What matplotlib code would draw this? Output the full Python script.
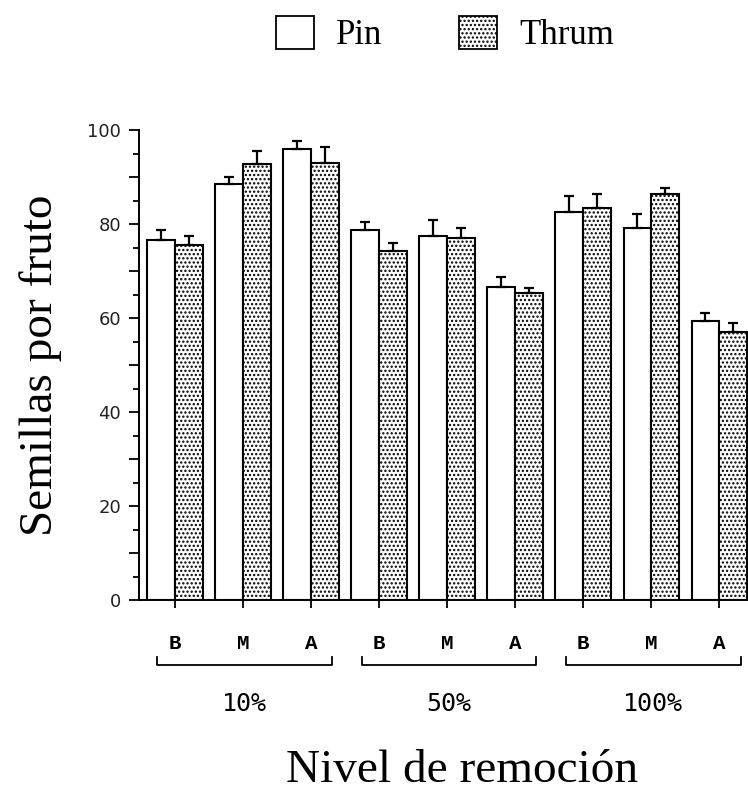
import matplotlib
matplotlib.use("Agg")
import matplotlib.pyplot as plt
from matplotlib.patches import Patch
from matplotlib.ticker import MultipleLocator, FuncFormatter

# values
levels = ["B", "M", "A", "B", "M", "A", "B", "M", "A"]
groups = ["10%", "50%", "100%"]
pin = [76.7, 88.6, 96.0, 78.9, 77.6, 66.6, 82.6, 79.3, 59.5]
pin_err = [2.2, 1.5, 1.7, 1.6, 3.3, 2.1, 3.4, 2.9, 1.6]
thrum = [75.5, 92.8, 93.1, 74.3, 77.2, 65.3, 83.5, 86.4, 57.0]
thrum_err = [2.1, 2.9, 3.4, 1.7, 2.0, 1.2, 2.9, 1.3, 2.0]

serif = "Liberation Serif"
mono = "Liberation Mono"
plt.rcParams["hatch.linewidth"] = 1.1

fig = plt.figure(figsize=(7.48, 7.95), dpi=100)
ax = fig.add_axes([0.186, 0.245, 0.814, 0.591])

x = list(range(len(pin)))
w = 0.41
ax.bar(x, pin, width=-w, align="edge", facecolor="white", edgecolor="black", linewidth=1.5)
ax.bar(x, thrum, width=w, align="edge", facecolor="white", edgecolor="black",
       linewidth=1.5, hatch="....")
ax.errorbar([i - w / 2 for i in x], pin, yerr=[[0] * len(pin), pin_err], fmt="none",
            ecolor="black", elinewidth=1.6, capsize=3.5, capthick=1.6)
ax.errorbar([i + w / 2 for i in x], thrum, yerr=[[0] * len(thrum), thrum_err], fmt="none",
            ecolor="black", elinewidth=1.6, capsize=3.5, capthick=1.6)

ax.set_xlim(-0.53, 8.42)
ax.set_ylim(0, 100)
for s in ["top", "right"]:
    ax.spines[s].set_visible(False)
for s in ["left", "bottom"]:
    ax.spines[s].set_linewidth(1.4)

ax.yaxis.set_major_locator(MultipleLocator(10))
ax.yaxis.set_minor_locator(MultipleLocator(5))
ax.yaxis.set_major_formatter(FuncFormatter(lambda v, p: "%d" % v if v % 20 == 0 else ""))
ax.tick_params(axis="y", which="major", length=7, width=1.3, pad=6, labelsize=13, labelcolor="#222222")
ax.tick_params(axis="y", which="minor", length=4, width=1.3)
ax.set_xticks(x)
ax.set_xticklabels(levels, fontfamily=mono, fontsize=15, fontweight="bold")
ax.tick_params(axis="x", length=6, width=1.3, pad=18)

ax.set_ylabel("Semillas por fruto", fontfamily=serif, fontsize=34, labelpad=18)

trans = ax.get_xaxis_transform()
for g, name in enumerate(groups):
    x0, x1 = 3 * g - 0.26, 3 * g + 2.31
    ax.plot([x0, x0, x1, x1], [-0.121, -0.138, -0.138, -0.121], color="black",
            linewidth=1.3, transform=trans, clip_on=False)
    ax.text(3 * g + 1.02, -0.221, name, transform=trans, ha="center", va="center",
            fontfamily="DejaVu Sans Mono", fontsize=18)

ax.text(0.53, -0.364, "Nivel de remoción", transform=ax.transAxes, ha="center",
        va="center", fontfamily=serif, fontsize=34)

handles = [Patch(facecolor="white", edgecolor="black", linewidth=1.3, label="Pin"),
           Patch(facecolor="white", edgecolor="black", linewidth=1.3, hatch="....", label="Thrum")]
fig.legend(handles=handles, loc="center", bbox_to_anchor=(0.595, 0.957), ncol=2,
           frameon=False, prop={"family": serif, "size": 25}, handlelength=1.1,
           handleheight=1.1, handletextpad=0.65, columnspacing=2.2)

fig.savefig("out.png", dpi=100)
